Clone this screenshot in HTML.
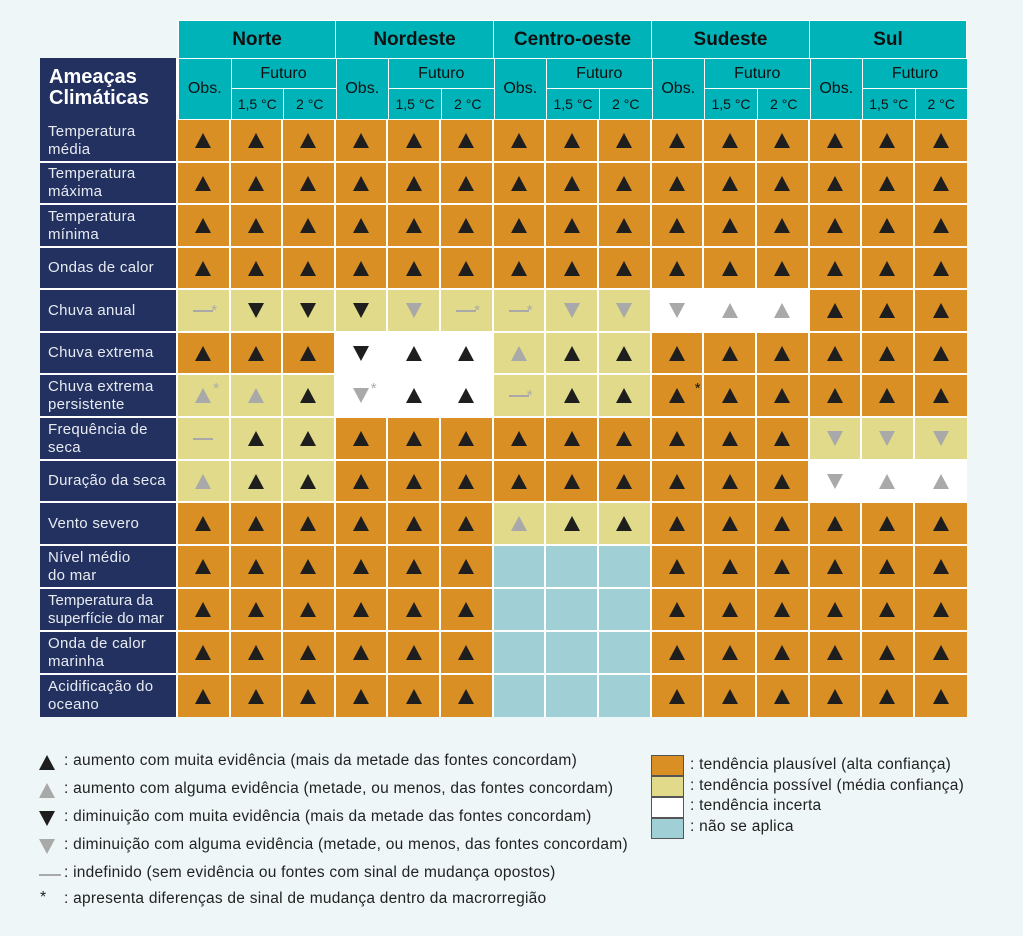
<!DOCTYPE html>
<html><head><meta charset="utf-8"><style>
body{margin:0;width:1023px;height:936px;background:#eef6f8;font-family:"Liberation Sans",sans-serif;position:relative;overflow:hidden}
.a{position:absolute;box-sizing:border-box}
.h{background:#00b3b8;color:#111;display:flex;align-items:center;justify-content:center;border:1px solid #fff}
.lab{background:#22315f;color:#e8ebf2;font-size:15px;letter-spacing:0.3px;line-height:18px;padding-left:8px;display:flex;align-items:center;border-bottom:2px solid #fff;border-right:2px solid #fff;white-space:nowrap}
.c{display:flex;align-items:center;justify-content:center;border-right:2px solid #fff;border-bottom:2px solid #fff}
.O{background:#d98f24}.Y{background:#e0da8a}.W{background:#fff;border-color:#fff}.B{background:#a0d0d6}
.tu{width:0;height:0;border-left:8px solid transparent;border-right:8px solid transparent;border-bottom:15px solid #1e1e1e}
.td{width:0;height:0;border-left:8px solid transparent;border-right:8px solid transparent;border-top:15px solid #1e1e1e}
.g.tu{border-bottom-color:#a9a9a9}.g.td{border-top-color:#a9a9a9}
.ds{width:20px;height:2px;background:#a9a9a9}
.st{position:relative}
.st:after{content:"*";position:absolute;left:18px;top:-8px;color:#aaa;font-size:15px}
.stk:after{color:#111}
.leg{font-size:15.5px;letter-spacing:0.25px;color:#222;position:absolute;white-space:nowrap}
</style></head><body>
<div class="a h" style="left:178px;top:20px;width:158px;height:39px;font-weight:bold;font-size:19px">Norte</div>
<div class="a h" style="left:335px;top:20px;width:159px;height:39px;font-weight:bold;font-size:19px">Nordeste</div>
<div class="a h" style="left:493px;top:20px;width:159px;height:39px;font-weight:bold;font-size:19px">Centro-oeste</div>
<div class="a h" style="left:651px;top:20px;width:159px;height:39px;font-weight:bold;font-size:19px">Sudeste</div>
<div class="a h" style="left:809px;top:20px;width:158px;height:39px;font-weight:bold;font-size:19px">Sul</div>
<div class="a" style="left:40px;top:58px;width:138px;height:62px;background:#22315f;color:#fff;font-weight:bold;font-size:20px;line-height:21px;padding:9px 0 0 9px;border-right:2px solid #fff">Ameaças<br>Climáticas</div>
<div id="hd"></div>
<div class="a lab" style="left:40px;top:120px;width:138px;height:43px">Temperatura<br>média</div>
<div class="a lab" style="left:40px;top:163px;width:138px;height:42px">Temperatura<br>máxima</div>
<div class="a lab" style="left:40px;top:205px;width:138px;height:43px">Temperatura<br>mínima</div>
<div class="a lab" style="left:40px;top:248px;width:138px;height:42px">Ondas de calor</div>
<div class="a lab" style="left:40px;top:290px;width:138px;height:43px">Chuva anual</div>
<div class="a lab" style="left:40px;top:333px;width:138px;height:42px">Chuva extrema</div>
<div class="a lab" style="left:40px;top:375px;width:138px;height:43px">Chuva extrema<br>persistente</div>
<div class="a lab" style="left:40px;top:418px;width:138px;height:43px">Frequência de<br>seca</div>
<div class="a lab" style="left:40px;top:461px;width:138px;height:42px">Duração da seca</div>
<div class="a lab" style="left:40px;top:503px;width:138px;height:43px">Vento severo</div>
<div class="a lab" style="left:40px;top:546px;width:138px;height:43px">Nível médio<br>do mar</div>
<div class="a lab" style="left:40px;top:589px;width:138px;height:43px;letter-spacing:0">Temperatura da<br>superfície do mar</div>
<div class="a lab" style="left:40px;top:632px;width:138px;height:43px">Onda de calor<br>marinha</div>
<div class="a lab" style="left:40px;top:675px;width:138px;height:42px;border-bottom:0">Acidificação do<br>oceano</div>
<div id="g"></div>

<div class="a tu" style="left:39px;top:755px"></div><div class="leg" style="left:64px;top:752px">: aumento com muita evidência (mais da metade das fontes concordam)</div>
<div class="a tu g" style="left:39px;top:783px"></div><div class="leg" style="left:64px;top:780px">: aumento com alguma evidência (metade, ou menos, das fontes concordam)</div>
<div class="a td" style="left:39px;top:811px"></div><div class="leg" style="left:64px;top:808px">: diminuição com muita evidência (mais da metade das fontes concordam)</div>
<div class="a td g" style="left:39px;top:839px"></div><div class="leg" style="left:64px;top:836px">: diminuição com alguma evidência (metade, ou menos, das fontes concordam)</div>
<div class="a ds" style="left:39px;top:874px;width:22px"></div><div class="leg" style="left:64px;top:864px">: indefinido (sem evidência ou fontes com sinal de mudança opostos)</div>
<div class="leg" style="left:40px;top:889px;font-size:16px">*</div><div class="leg" style="left:64px;top:890px">: apresenta diferenças de sinal de mudança dentro da macrorregião</div>

<div class="a" style="left:651px;top:755px;width:33px;height:21px;background:#d98f24;border:1px solid #555"></div><div class="leg" style="left:690px;top:756px">: tendência plausível (alta confiança)</div>
<div class="a" style="left:651px;top:776px;width:33px;height:21px;background:#e0da8a;border:1px solid #555"></div><div class="leg" style="left:690px;top:777px">: tendência possível (média confiança)</div>
<div class="a" style="left:651px;top:797px;width:33px;height:21px;background:#fff;border:1px solid #555"></div><div class="leg" style="left:690px;top:797px">: tendência incerta</div>
<div class="a" style="left:651px;top:818px;width:33px;height:21px;background:#a0d0d6;border:1px solid #555"></div><div class="leg" style="left:690px;top:818px">: não se aplica</div>

<script>
var xs=[178,230.5,283,335.5,388,441,493.5,546,599,651.5,704,757,809.5,862,914.5,967];
var ys=[120,163,205,248,290,333,375,418,461,503,546,589,632,675,717];
var hd='';
for(var r=0;r<5;r++){var x0=xs[r*3],x1=xs[r*3+1],x2=xs[r*3+2],x3=xs[r*3+3];
hd+='<div class="a h" style="left:'+x0+'px;top:58px;width:'+(x1-x0+1)+'px;height:62px;font-size:16px">Obs.</div>';
hd+='<div class="a h" style="left:'+x1+'px;top:58px;width:'+(x3-x1+1)+'px;height:31px;font-size:16px">Futuro</div>';
hd+='<div class="a h" style="left:'+x1+'px;top:88px;width:'+(x2-x1+1)+'px;height:32px;font-size:14px">1,5 °C</div>';
hd+='<div class="a h" style="left:'+x2+'px;top:88px;width:'+(x3-x2+1)+'px;height:32px;font-size:14px">2 °C</div>';}
document.getElementById('hd').innerHTML=hd;
var A='O:U,U,U|O:U,U,U|O:U,U,U|O:U,U,U|O:U,U,U';
var rows=[A,A,A,A,
'Y:-*,D,D|Y:D,d,-*|Y:-*,d,d|W:d,u,u|O:U,U,U',
'O:U,U,U|W:D,U,U|Y:u,U,U|O:U,U,U|O:U,U,U',
'Y:u*,u,U|W:d*,U,U|Y:-*,U,U|O:K,U,U|O:U,U,U',
'Y:-,U,U|O:U,U,U|O:U,U,U|O:U,U,U|Y:d,d,d',
'Y:u,U,U|O:U,U,U|O:U,U,U|O:U,U,U|W:d,u,u',
'O:U,U,U|O:U,U,U|Y:u,U,U|O:U,U,U|O:U,U,U',
'O:U,U,U|O:U,U,U|B:,,|O:U,U,U|O:U,U,U',
'O:U,U,U|O:U,U,U|B:,,|O:U,U,U|O:U,U,U',
'O:U,U,U|O:U,U,U|B:,,|O:U,U,U|O:U,U,U',
'O:U,U,U|O:U,U,U|B:,,|O:U,U,U|O:U,U,U'];
var h='';
rows.forEach(function(rw,i){rw.split('|').forEach(function(g,r){var p=g.split(':'),col=p[0],v=p[1].split(',');
v.forEach(function(s,k){var c=r*3+k,x=xs[c],w=xs[c+1]-x,y=ys[i],hh=ys[i+1]-y;
var bb=(i==13)?'border-bottom:0;':'';var br=(c==14)?'border-right:0;':'';
var t=s.replace('*',''),star=s.indexOf('*')>=0,sym='';
if(t=='U')sym='<div class="tu"></div>';else if(t=='u')sym='<div class="tu g"></div>';
else if(t=='D')sym='<div class="td"></div>';else if(t=='d')sym='<div class="td g"></div>';
else if(t=='-')sym='<div class="ds"></div>';else if(t=='K')sym='<div class="tu st stk"></div>';
if(star)sym='<div class="st">'+sym+'</div>';
h+='<div class="a c '+col+'" style="left:'+x+'px;top:'+y+'px;width:'+w+'px;height:'+hh+'px;'+bb+br+'">'+sym+'</div>';});});});
document.getElementById('g').innerHTML=h;
</script>
</body></html>
